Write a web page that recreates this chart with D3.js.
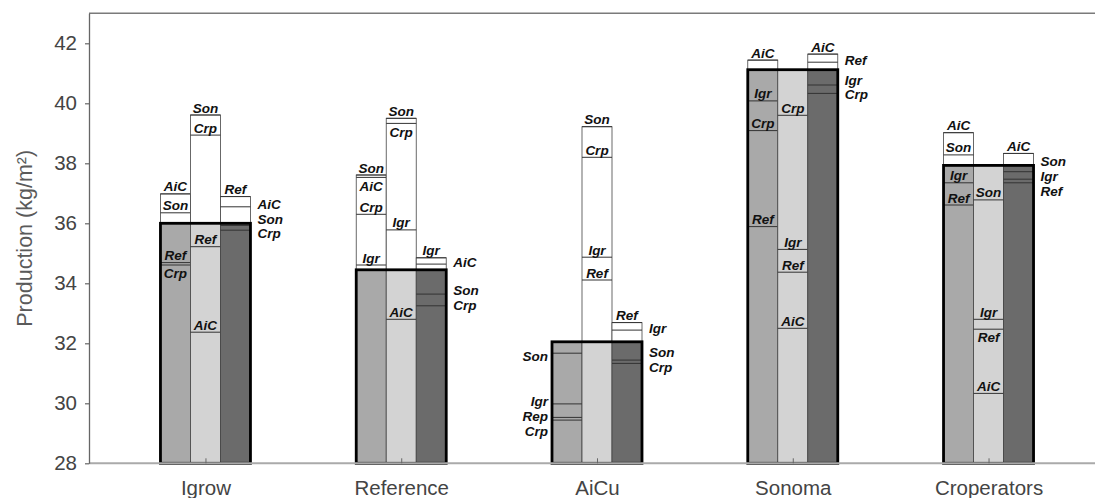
<!DOCTYPE html>
<html>
<head>
<meta charset="utf-8">
<script src="https://cdn.jsdelivr.net/npm/d3@7"></script>
<style>
  html, body { margin: 0; padding: 0; background: #fff; }
  svg { display: block; }
</style>
</head>
<body>
<svg id="chart" width="1095" height="498"></svg>
<script>
// ---- data -------------------------------------------------------------
const teams = ['Igrow', 'Reference', 'AiCu', 'Sonoma', 'Croperators'];
// realised production of each team (thick outlined block)
const production = [36.0, 34.45, 32.05, 41.12, 37.93];
const yTicks = [28, 30, 32, 34, 36, 38, 40, 42];

// marks per bar, one list per team: [label, value]
const barLeft = [
  [['AiC', 36.98], ['Son', 36.35], ['Ref', 34.69], ['Crp', 34.61]],
  [['Son', 37.61], ['AiC', 37.53], ['Crp', 36.30], ['Igr', 34.61]],
  [['Son', 31.67], ['Igr', 29.98], ['Rep', 29.53], ['Crp', 29.44]],
  [['AiC', 41.44], ['Igr', 40.08], ['Crp', 39.09], ['Ref', 35.89]],
  [['AiC', 39.02], ['Son', 38.28], ['Igr', 37.35], ['Ref', 36.61]]
];
const barMiddle = [
  [['Son', 39.61], ['Crp', 38.94], ['Ref', 35.22], ['AiC', 32.37]],
  [['Son', 39.50], ['Crp', 39.33], ['Igr', 35.78], ['AiC', 32.80]],
  [['Son', 39.22], ['Crp', 38.20], ['Igr', 34.87], ['Ref', 34.11]],
  [['Crp', 39.60], ['Igr', 35.13], ['Ref', 34.37], ['AiC', 32.50]],
  [['Son', 36.78], ['Igr', 32.80], ['Ref', 32.47], ['AiC', 30.33]]
];
const barRight = [
  [['Ref', 36.89], ['AiC', 36.55], ['Son', 35.93], ['Crp', 35.77]],
  [['Igr', 34.85], ['AiC', 34.64], ['Son', 33.64], ['Crp', 33.25]],
  [['Ref', 32.69], ['Igr', 32.44], ['Son', 31.44], ['Crp', 31.33]],
  [['AiC', 41.64], ['Ref', 41.37], ['Igr', 40.61], ['Crp', 40.33]],
  [['AiC', 38.33], ['Son', 37.72], ['Igr', 37.47], ['Ref', 37.35]]
];

// ---- layout -------------------------------------------------------------
const svg = d3.select('#chart');
const chartW = 1095;
const plotLeft = 89, plotTop = 13.3, plotBottom = 463.3;

const x = d3.scalePoint().domain(teams).range([88, 1106]).padding(0.6);
const y = d3.scaleLinear().domain([28, 43]).range([plotBottom, plotTop]);
const sub = d3.scaleBand().domain(['left', 'middle', 'right']).range([-45, 45]);
const fills = { left: '#a9a9a9', middle: '#d3d3d3', right: '#6b6b6b' };

// where the labels of each bar go: inside the bar or beside it
const labelSide = {
  left: t => (t === 'AiCu' ? 'outside-left' : 'inside'),
  middle: () => 'inside',
  right: () => 'outside-right'
};

const labelFont = '"Liberation Sans", Arial, sans-serif';
const axisFont = '"Liberation Sans", Arial, sans-serif';
const LABEL_SIZE = 13.5;
const CAP = 9.7;      // cap height of the label font
const GAP = 14.8;     // vertical spacing of stacked side labels

// spread side labels vertically so that they do not overlap
function spread(ts, gap) {
  let cl = ts.map(t => ({ ts: [t] }));
  const start = c => d3.mean(c.ts, (t, j) => t - j * gap);
  let merged = true;
  while (merged) {
    merged = false;
    for (let k = 0; k < cl.length - 1; k++) {
      const a = cl[k], b = cl[k + 1];
      if (start(a) + a.ts.length * gap > start(b)) {
        cl.splice(k, 2, { ts: a.ts.concat(b.ts) });
        merged = true;
        break;
      }
    }
  }
  const out = [];
  cl.forEach(c => { const s = start(c); c.ts.forEach((t, j) => out.push(s + j * gap)); });
  return out;
}

// ---- frame --------------------------------------------------------------
svg.append('line')
  .attr('x1', plotLeft).attr('x2', chartW).attr('y1', plotTop).attr('y2', plotTop)
  .attr('stroke', '#7a7a7a').attr('stroke-width', 1.5);

// ---- bars ---------------------------------------------------------------
const bars = { left: barLeft, middle: barMiddle, right: barRight };

teams.forEach((team, i) => {
  const base = production[i];
  const g = svg.append('g').attr('transform', `translate(${x(team)},0)`);
  const labels = g.append('g').attr('class', 'labels');

  ['left', 'middle', 'right'].forEach(pos => {
    const marks = bars[pos][i].slice().sort((a, b) => b[1] - a[1]);
    const bx = sub(pos), bw = sub.bandwidth();
    const maxV = marks[0][1];

    // coloured part up to the team's own production
    g.append('rect')
      .attr('x', bx).attr('width', bw)
      .attr('y', y(base)).attr('height', y(28) - y(base))
      .attr('fill', fills[pos]).attr('stroke', '#444').attr('stroke-width', 0.8);

    // white extension above it
    if (maxV > base) {
      g.append('rect')
        .attr('x', bx).attr('width', bw)
        .attr('y', y(maxV)).attr('height', y(base) - y(maxV))
        .attr('fill', '#fff').attr('stroke', '#444').attr('stroke-width', 0.8);
    }

    // one line per mark
    g.selectAll(null).data(marks).enter().append('line')
      .attr('x1', bx).attr('x2', bx + bw)
      .attr('y1', d => y(d[1])).attr('y2', d => y(d[1]))
      .attr('stroke', '#333').attr('stroke-width', 1);

    const side = labelSide[pos](team);
    let inside = marks, outside = [];
    if (side !== 'inside') {
      inside = maxV > base ? [marks[0]] : [];
      outside = maxV > base ? marks.slice(1) : marks;
    }

    // labels sitting on their line, hung below it when crowded
    let prevBase = -Infinity;
    inside.forEach(d => {
      const ly = y(d[1]);
      let bl = ly - 2.5;
      if (bl - CAP < prevBase + 2) bl = ly + 3.5 + CAP;
      prevBase = bl;
      labels.append('text')
        .attr('x', bx + bw / 2).attr('y', bl)
        .attr('text-anchor', 'middle')
        .text(d[0]);
    });

    // labels stacked beside the bar
    if (outside.length) {
      const onRight = side === 'outside-right';
      const ys = spread(outside.map(d => y(d[1]) + (onRight ? -2 : 2.5)), GAP);
      outside.forEach((d, k) => {
        labels.append('text')
          .attr('x', onRight ? bx + bw + 7 : bx - 4)
          .attr('y', ys[k] + CAP / 2)
          .attr('text-anchor', onRight ? 'start' : 'end')
          .text(d[0]);
      });
    }
  });

  // thick outline around the team's production
  g.append('rect')
    .attr('x', -45).attr('width', 90)
    .attr('y', y(base)).attr('height', y(28) - y(base))
    .attr('fill', 'none').attr('stroke', '#000').attr('stroke-width', 2.8);

  labels.raise();
  labels.selectAll('text')
    .attr('font-family', labelFont)
    .attr('font-size', LABEL_SIZE)
    .attr('font-weight', 'bold')
    .attr('font-style', 'italic')
    .attr('fill', '#111');
});

// ---- axes ---------------------------------------------------------------
svg.append('line')
  .attr('x1', plotLeft).attr('x2', chartW).attr('y1', plotBottom).attr('y2', plotBottom)
  .attr('stroke', '#aaa').attr('stroke-width', 2);

const yAxis = svg.append('g')
  .attr('transform', `translate(${plotLeft},0)`)
  .call(d3.axisLeft(y).tickValues(yTicks).tickSize(4).tickSizeOuter(0).tickPadding(8));
yAxis.select('.domain').attr('stroke', '#666').attr('stroke-width', 1.3);
yAxis.selectAll('.tick line').attr('stroke', '#666').attr('stroke-width', 1.2);
yAxis.selectAll('.tick text')
  .attr('font-family', axisFont)
  .attr('font-size', 20.5).attr('fill', '#444');

const xAxis = svg.append('g')
  .attr('transform', `translate(0,${plotBottom})`)
  .call(d3.axisBottom(x).tickSize(-5).tickSizeOuter(0).tickPadding(17));
xAxis.select('.domain').remove();
xAxis.selectAll('.tick line').attr('stroke', '#666');
xAxis.selectAll('.tick text')
  .attr('font-family', axisFont)
  .attr('font-size', 20.5).attr('fill', '#444');

svg.append('text')
  .attr('transform', `translate(32,${(plotTop + plotBottom) / 2}) rotate(-90)`)
  .attr('text-anchor', 'middle')
  .attr('font-family', axisFont)
  .attr('font-size', 21.5).attr('fill', '#5a5a5a')
  .text('Production (kg/m²)');
</script>
</body>
</html>
